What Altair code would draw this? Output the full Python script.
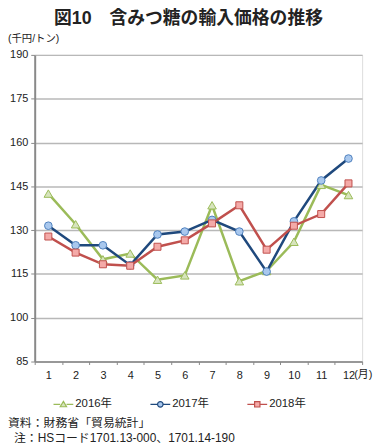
import altair as alt
import pandas as pd

# ---- data ----
months = list(range(1, 13))
series_names = ["2016年", "2017年", "2018年"]
v2016 = [142.5, 132.0, 120.0, 122.0, 113.0, 114.5, 138.5, 112.5, 116.0, 126.0, 145.5, 142.0]
v2017 = [131.5, 124.8, 124.8, 118.0, 128.5, 129.5, 133.5, 129.5, 115.8, 133.0, 147.0, 154.5]
v2018 = [127.8, 122.3, 118.3, 117.8, 124.3, 126.5, 132.3, 138.5, 123.3, 131.5, 135.5, 146.0]
y_ticks = [85, 100, 115, 130, 145, 160, 175, 190]

title_text = "図10　含みつ糖の輸入価格の推移"
unit_text = "(千円/トン)"
month_unit = "(月)"
note_line1 = "資料：財務省「貿易統計」"
note_line2 = "注：HSコード1701.13-000、1701.14-190"

# ---- styles ----
line_colors = ["#9bbb59", "#1f497d", "#c0504d"]
edge_colors = ["#9bbb59", "#4f81bd", "#c0504d"]
fill_colors = ["#d7e4bd", "#a9c8ee", "#f4aaa8"]
shapes = ["triangle-up", "circle", "square"]
sizes = [75, 60, 50]
legend_paths = [
    "M-1,0L-0.32,0M0.32,0L1,0M0,-0.3L0.32,0.25L-0.32,0.25Z",
    "M-1,0L-0.28,0M0.28,0L1,0M-0.28,0A0.28,0.28,0,1,1,0.28,0A0.28,0.28,0,1,1,-0.28,0Z",
    "M-1,0L-0.27,0M0.27,0L1,0M-0.27,-0.27L0.27,-0.27L0.27,0.27L-0.27,0.27Z",
]

W, H = 331, 310
FONT = "Liberation Sans, Arial, Noto Sans CJK JP, sans-serif"
TXT = "#222222"

rows = []
for name, vals in zip(series_names, [v2016, v2017, v2018]):
    for m, v in zip(months, vals):
        rows.append({"month": m, "value": v, "series": name})
df = pd.DataFrame(rows)

x_enc = alt.X(
    "month:O",
    bandPosition=0.5,
    scale=alt.Scale(type="band", paddingInner=0, paddingOuter=0),
    axis=alt.Axis(
        title=None, labelAngle=0, tickBand="extent", tickSize=3, tickColor="#898989",
        domainColor="#898989", domainWidth=1.5, labelFontSize=11, labelColor=TXT,
        labelPadding=5, grid=False,
    ),
)
y_enc = alt.Y(
    "value:Q",
    scale=alt.Scale(domain=[85, 190], nice=False, zero=False),
    axis=alt.Axis(
        title=None, values=y_ticks, tickSize=4, tickColor="#898989", domainColor="#898989",
        domainWidth=2, gridColor="#b8b8b8", gridWidth=1.5, labelFontSize=11,
        labelColor=TXT, labelPadding=3,
    ),
)

base = alt.Chart(df)
layers = []
for i, name in enumerate(series_names):
    layers.append(
        base.transform_filter(alt.datum.series == name)
        .mark_line(color=line_colors[i], strokeWidth=2.5)
        .encode(x=x_enc, y=y_enc)
    )
for i, name in enumerate(series_names):
    layers.append(
        base.transform_filter(alt.datum.series == name)
        .mark_point(shape=shapes[i], filled=True, fill=fill_colors[i], stroke=edge_colors[i],
                    strokeWidth=1, size=sizes[i], opacity=1)
        .encode(x=x_enc, y=y_enc)
    )

legend_layer = (
    base.transform_filter("false")
    .mark_point(filled=True, opacity=1)
    .encode(
        shape=alt.Shape(
            "series:N",
            scale=alt.Scale(domain=series_names, range=legend_paths),
            legend=alt.Legend(
                title=None, orient="none", legendX=18, legendY=342, direction="horizontal",
                symbolSize=400, symbolStrokeWidth=1.2, columnPadding=35, labelOffset=1,
                labelFontSize=11.5, labelColor=TXT, symbolOpacity=1,
            ),
        ),
        stroke=alt.Stroke("series:N", scale=alt.Scale(domain=series_names, range=line_colors)),
        fill=alt.Fill("series:N", scale=alt.Scale(domain=series_names, range=fill_colors)),
    )
)
layers.append(legend_layer)


def text_layer(txt, x, y, size, align="left", baseline="middle", weight="normal"):
    return alt.Chart(pd.DataFrame({"t": [txt]})).mark_text(
        fontSize=size, baseline=baseline, align=align, color=TXT, fontWeight=weight
    ).encode(text="t:N", x=alt.value(x), y=alt.value(y))


layers += [
    text_layer(title_text, W / 2 - 10, -45, 18, align="center", baseline="top", weight="bold"),
    text_layer(unit_text, -27, -16, 10.5),
    text_layer(month_unit, W - 8, H + 13.5, 11),
    text_layer(note_line1, -27, 372, 12),
    text_layer(note_line2, -21, 387, 12),
]

chart = (
    alt.layer(*layers)
    .properties(width=W, height=H, padding=0)
    .configure_view(stroke=None)
    .configure(font=FONT)
)

chart.save("out.html", embed_options={"renderer": "svg", "actions": False})
